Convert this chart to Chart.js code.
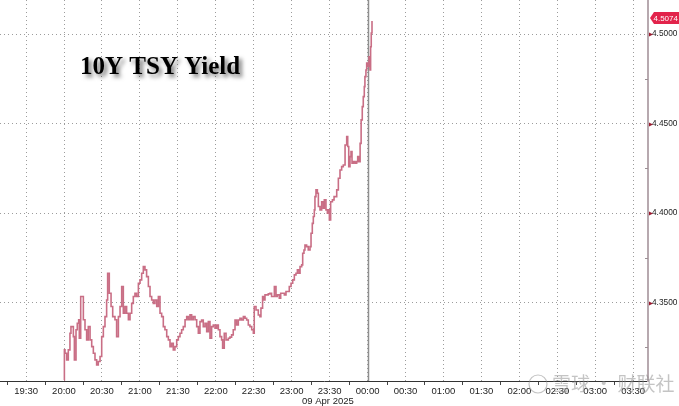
<!DOCTYPE html>
<html>
<head>
<meta charset="utf-8">
<script src="https://cdn.jsdelivr.net/npm/chart.js@4.4.1/dist/chart.umd.min.js"></script>
<style>
  html, body { margin: 0; padding: 0; background: #fff; }
  #wrap { width: 679px; height: 406px; }
</style>
</head>
<body>
<div id="wrap"><canvas id="yieldChart" width="679" height="406"></canvas></div>
<script>
// minutes after 20:00 (09 Apr 2025) and 10Y yield
const TIMES = [
  0, 0.3, 0.8, 2.1, 3.4, 4.7, 5.5, 7.4, 8.2, 9.5, 10.5, 11.6, 12.1, 13.2, 14.5, 15.3,
  16.6, 17.9, 19.2, 20.6, 21.9, 23.2, 24.5, 25.8, 27.1, 28.5, 29.8, 31.1, 32.4, 33.7,
  34.5, 35.8, 37.2, 38.5, 40.3, 41.6, 43.0, 44.3, 45.6, 46.9, 48.2, 49.5, 50.9, 52.2,
  53.5, 54.8, 56.1, 57.4, 58.8, 60.1, 61.4, 62.7, 64.0, 65.3, 66.7, 68.0, 69.3, 70.6,
  71.9, 73.3, 74.6, 75.9, 77.2, 78.5, 79.8, 81.2, 82.5, 83.8, 85.1, 86.4, 87.7, 89.1,
  90.4, 91.7, 93.0, 94.3, 95.7, 97.0, 98.3, 99.6, 100.9, 102.2, 103.6, 104.9, 106.2,
  107.5, 108.8, 110.1, 111.5, 112.8, 114.1, 115.4, 116.7, 118.0, 119.4, 120.7, 122.0,
  123.3, 124.6, 125.4, 126.7, 128.1, 129.9, 131.2, 132.5, 133.8, 135.2, 136.5, 137.8,
  139.1, 140.4, 141.8, 143.1, 144.4, 145.7, 147.0, 148.4, 149.7, 150.4, 151.8, 153.6,
  154.9, 155.7, 157.0, 158.1, 158.9, 160.2, 161.5, 162.8, 164.1, 165.5, 166.3, 167.6,
  168.6, 170.2, 171.3, 172.9, 174.2, 175.5, 176.8, 178.1, 179.5, 180.8, 182.1, 183.4,
  184.5, 185.8, 186.6, 187.9, 188.7, 189.7, 190.5, 191.8, 193.1, 194.5, 195.3, 196.3,
  197.1, 197.9, 198.4, 199.2, 200.3, 201.1, 202.4, 203.7, 205.0, 205.8, 207.1, 208.2,
  209.3, 209.8, 210.8, 212.2, 213.5, 214.8, 215.6, 216.9, 218.2, 219.5, 220.8, 222.2,
  223.5, 224.3, 225.1, 226.1, 226.9, 227.7, 228.8, 230.1, 231.4, 232.2, 233.3, 234.1,
  234.9, 235.8, 236.6, 237.4, 237.9, 238.7, 239.3, 240.1, 241.1, 241.9, 242.4, 242.9,
  243.5
];
const YIELDS = [
  4.3068, 4.3236, 4.3217, 4.3180, 4.3236, 4.3329, 4.3366, 4.3310, 4.3180, 4.3348, 4.3385, 4.3404, 4.3301, 4.3534, 4.3534, 4.3404,
  4.3348, 4.3292, 4.3366, 4.3292, 4.3254, 4.3217, 4.3180, 4.3152, 4.3171, 4.3199, 4.3310, 4.3366, 4.3422, 4.3515,
  4.3664, 4.3552, 4.3478, 4.3422, 4.3404, 4.3310, 4.3422, 4.3478, 4.3590, 4.3441, 4.3478, 4.3441, 4.3404, 4.3441,
  4.3496, 4.3534, 4.3552, 4.3534, 4.3608, 4.3627, 4.3664, 4.3701, 4.3683, 4.3645, 4.3590, 4.3534, 4.3515, 4.3496,
  4.3515, 4.3478, 4.3534, 4.3441, 4.3422, 4.3366, 4.3348, 4.3310, 4.3292, 4.3254, 4.3273, 4.3236, 4.3254, 4.3292,
  4.3310, 4.3329, 4.3348, 4.3366, 4.3404, 4.3422, 4.3404, 4.3432, 4.3404, 4.3422, 4.3404, 4.3366, 4.3329,
  4.3394, 4.3403, 4.3366, 4.3385, 4.3338, 4.3394, 4.3301, 4.3366, 4.3375, 4.3357, 4.3375, 4.3348,
  4.3310, 4.3292, 4.3245, 4.3329, 4.3292, 4.3301, 4.3307, 4.3320, 4.3348, 4.3403, 4.3375, 4.3403,
  4.3413, 4.3403, 4.3422, 4.3413, 4.3403, 4.3375, 4.3366, 4.3348, 4.3329, 4.3478, 4.3459, 4.3431,
  4.3422, 4.3469, 4.3534, 4.3515, 4.3543, 4.3543, 4.3549, 4.3552, 4.3534, 4.3534, 4.3590, 4.3534,
  4.3543, 4.3524, 4.3552, 4.3552, 4.3543, 4.3562, 4.3562, 4.3590, 4.3608, 4.3627, 4.3655, 4.3664,
  4.3683, 4.3664, 4.3701, 4.3711, 4.3776, 4.3794, 4.3822, 4.3813, 4.3794, 4.3813, 4.3888, 4.3943,
  4.3981, 4.4018, 4.4092, 4.4130, 4.4111, 4.4037, 4.4018, 4.4064, 4.4027, 4.4074, 4.4018, 4.3999,
  4.4018, 4.3962, 4.4064, 4.4074, 4.4092, 4.4092, 4.4130, 4.4195, 4.4241, 4.4260, 4.4269, 4.4381,
  4.4428, 4.4372, 4.4260, 4.4316, 4.4344, 4.4279, 4.4288, 4.4279, 4.4288, 4.4316, 4.4288, 4.4390,
  4.4521, 4.4595, 4.4651, 4.4707, 4.4763, 4.4800, 4.4838, 4.4819, 4.4874, 4.4800, 4.4930, 4.5007,
  4.5074
];
const X_TICKS = [-30, 0, 30, 60, 90, 120, 150, 180, 210, 240, 270, 300, 330, 360, 390, 420, 450];
const X_LABELS = ['19:30', '20:00', '20:30', '21:00', '21:30', '22:00', '22:30', '23:00', '23:30',
                  '00:00', '00:30', '01:00', '01:30', '02:00', '02:30', '03:00', '03:30'];
const Y_TICKS = [4.35, 4.40, 4.45, 4.50];
const MIDNIGHT = 240;
const TITLE = '10Y TSY Yield';
const DATE_LABEL = '09 Apr 2025';

const overlay = {
  id: 'overlay',
  beforeDatasetsDraw(chart) {
    const { ctx, chartArea, scales: { x } } = chart;
    // 00:00 marker line
    const mx = Math.round(x.getPixelForValue(MIDNIGHT)) + 0.5;
    ctx.save();
    ctx.strokeStyle = '#8f8f8f';
    ctx.lineWidth = 1.5;
    ctx.beginPath();
    ctx.moveTo(mx, 0);
    ctx.lineTo(mx, chartArea.bottom);
    ctx.stroke();
    ctx.restore();
  },
  afterDraw(chart) {
    const { ctx, chartArea, scales: { x, y } } = chart;
    ctx.save();

    // minor ticks on the time axis
    ctx.strokeStyle = '#444';
    ctx.lineWidth = 1;
    for (let m = -45; m <= 455; m += 30) {
      const px = Math.round(x.getPixelForValue(m)) + 0.5;
      if (px < chartArea.left || px > chartArea.right) continue;
      ctx.beginPath();
      ctx.moveTo(px, chartArea.bottom + 1);
      ctx.lineTo(px, chartArea.bottom + 4);
      ctx.stroke();
    }

    // tick marks on the yield axis
    for (let i = 0; i < 8; i++) {
      const v = 4.325 + i * 0.025;
      const py = Math.round(y.getPixelForValue(v)) + 0.5;
      if (i % 2 === 1) {
        ctx.fillStyle = '#9b1b30';
        ctx.beginPath();
        ctx.moveTo(chartArea.right + 1, py - 2);
        ctx.lineTo(chartArea.right + 5, py);
        ctx.lineTo(chartArea.right + 1, py + 2);
        ctx.closePath();
        ctx.fill();
      } else {
        ctx.strokeStyle = '#9a8f94';
        ctx.beginPath();
        ctx.moveTo(chartArea.right - 3, py);
        ctx.lineTo(chartArea.right, py);
        ctx.stroke();
      }
    }

    // last value tag
    const last = YIELDS[YIELDS.length - 1];
    const ly = y.getPixelForValue(last) - 3;
    const lx = chartArea.right + 2;
    ctx.fillStyle = '#e2234b';
    ctx.beginPath();
    ctx.moveTo(lx, ly);
    ctx.lineTo(lx + 4, ly - 6);
    ctx.lineTo(679, ly - 6);
    ctx.lineTo(679, ly + 6);
    ctx.lineTo(lx + 4, ly + 6);
    ctx.closePath();
    ctx.fill();
    ctx.fillStyle = '#fff';
    ctx.font = '8px "Liberation Sans", Arial, sans-serif';
    ctx.textBaseline = 'middle';
    ctx.textAlign = 'left';
    ctx.fillText(last.toFixed(4), lx + 3.5, ly + 0.5);

    // date under the axis
    ctx.fillStyle = '#222';
    ctx.font = '9.5px "Liberation Sans", Arial, sans-serif';
    ctx.fillText(DATE_LABEL, 302, 401);

    // title with drop shadow
    ctx.font = 'bold 25px "Liberation Serif", "Times New Roman", serif';
    ctx.textBaseline = 'alphabetic';
    ctx.shadowColor = 'rgba(0,0,0,0.55)';
    ctx.shadowBlur = 4;
    ctx.shadowOffsetX = 3;
    ctx.shadowOffsetY = 3;
    ctx.fillStyle = '#000';
    ctx.fillText(TITLE, 80, 74);
    ctx.shadowColor = 'transparent';

    // watermark
    ctx.globalAlpha = 0.5;
    ctx.strokeStyle = '#8a8a8a';
    ctx.lineWidth = 1.2;
    ctx.beginPath();
    ctx.arc(538, 384, 9, 0, Math.PI * 2);
    ctx.stroke();
    ctx.fillStyle = '#8a8a8a';
    ctx.font = '19px "Noto Sans CJK SC", sans-serif';
    ctx.textBaseline = 'middle';
    ctx.fillText('雪球 · 财联社', 552, 384);
    ctx.restore();
  }
};

new Chart(document.getElementById('yieldChart'), {
  type: 'line',
  data: {
    datasets: [{
      data: TIMES.map((t, i) => ({ x: t, y: YIELDS[i] })),
      borderColor: '#c96e85',
      borderWidth: 1.6,
      stepped: true,
      pointRadius: 0,
      fill: false
    }]
  },
  options: {
    responsive: false,
    animation: false,
    devicePixelRatio: 1,
    layout: { padding: 0 },
    plugins: { legend: { display: false }, tooltip: { enabled: false } },
    scales: {
      x: {
        type: 'linear',
        min: -50.6,
        max: 461.7,
        afterBuildTicks: s => { s.ticks = X_TICKS.map(v => ({ value: v })); },
        afterFit: s => { s.height = 25; s.paddingLeft = 0; s.paddingRight = 0; },
        ticks: {
          autoSkip: false,
          maxRotation: 0,
          padding: 5,
          color: '#222',
          font: { family: '"Liberation Sans", Arial, sans-serif', size: 9.5 },
          callback: v => X_LABELS[X_TICKS.indexOf(v)]
        },
        grid: { color: '#9c9c9c', lineWidth: 1, drawTicks: false },
        border: { display: true, color: '#333', width: 1, dash: [1, 3] }
      },
      y: {
        type: 'linear',
        position: 'right',
        min: 4.3062,
        max: 4.5191,
        afterBuildTicks: s => { s.ticks = Y_TICKS.map(v => ({ value: v })); },
        afterFit: s => { s.width = 31; s.paddingTop = 0; s.paddingBottom = 0; },
        ticks: {
          padding: 4,
          color: '#222',
          font: { family: '"Liberation Sans", Arial, sans-serif', size: 8.3 },
          callback: v => Number(v).toFixed(4)
        },
        grid: { color: '#9c9c9c', lineWidth: 1, drawTicks: false },
        border: { display: true, color: '#b7a9af', width: 2, dash: [1, 3] }
      }
    }
  },
  plugins: [overlay]
});
</script>
</body>
</html>
